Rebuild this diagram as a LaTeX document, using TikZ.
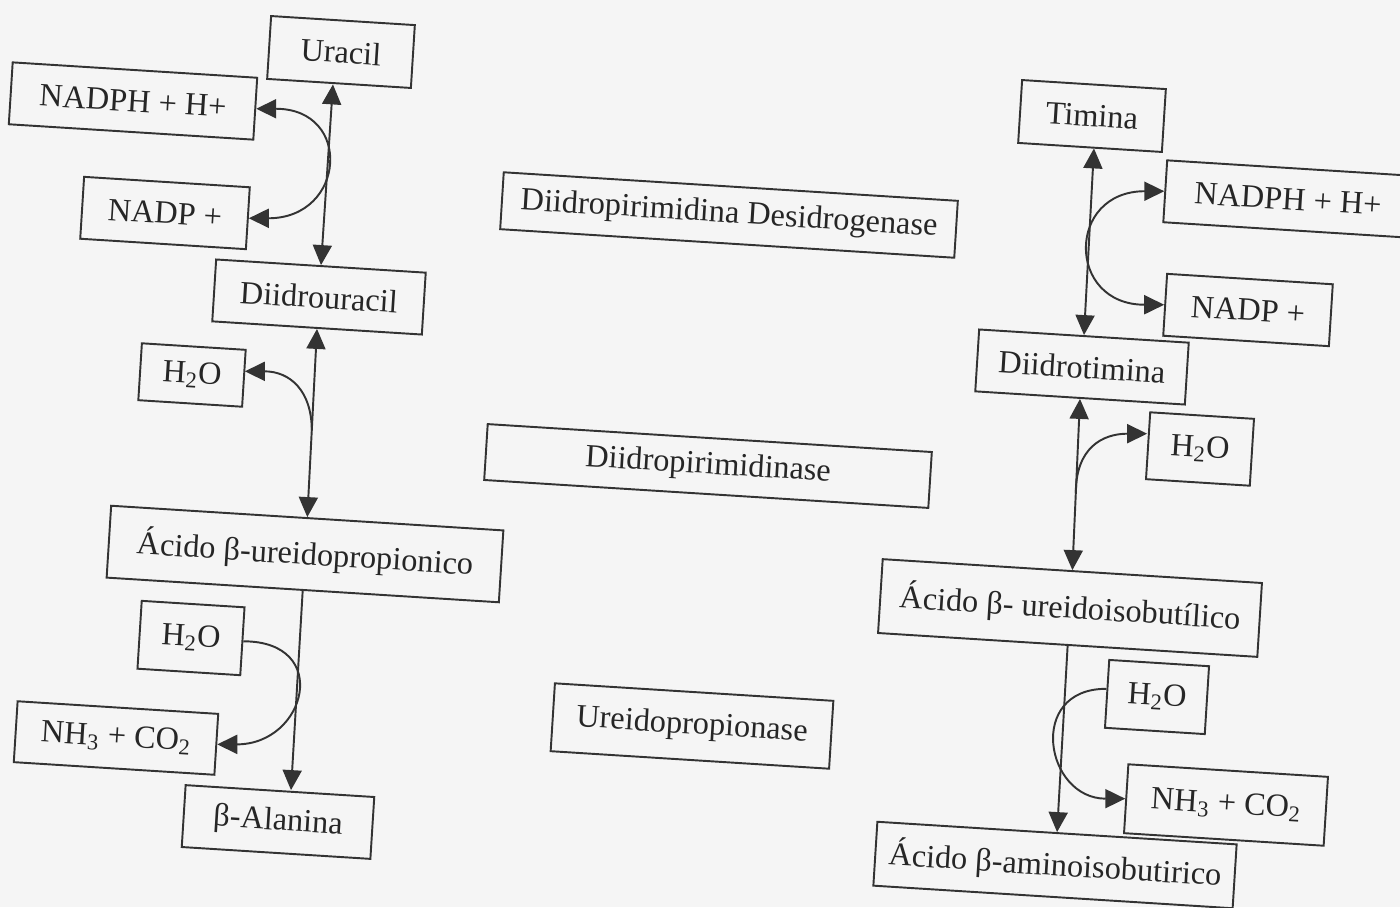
\documentclass[tikz,border=0pt]{standalone}
\usepackage{fontspec}
\setmainfont{Liberation Serif}
\usetikzlibrary{arrows.meta, calc}

\begin{document}
\begin{tikzpicture}[
    x=0.02cm, y=-0.02cm,
    >={Triangle[length=0.4cm, width=0.38cm]},
    font=\fontsize{18.4}{21}\selectfont,
    box/.style={
        draw=black!80,
        rectangle,
        rotate=-3.6,
        inner sep=0pt,
        line width=1.1pt,
        text=black!85
    },
    boxsize/.style 2 args={
        minimum width=#1*0.02cm,
        minimum height=#2*0.02cm
    },
    arrow/.style={->, line width=1.1pt, draw=black!80},
    both/.style={<->, line width=1.1pt, draw=black!80}
]

\fill[black!4] (0,0) rectangle (1400,907);
\useasboundingbox (0,0) rectangle (1400,907);

% uracil
\node[box, boxsize={144}{63}] (uracil) at (341,52) {Uracil};
\node[box, boxsize={245}{62}] (nadphL) at (133,101) {NADPH + H+};
\node[box, boxsize={166}{62}] (nadpL) at (165,213) {NADP +};
\node[box, boxsize={210}{62}] (diU) at (319,297) {Diidrouracil};
\node[box, boxsize={104}{57}] (waterA) at (192,375) {H\textsubscript{2}O};
\node[box, boxsize={393}{72}] (ureidoP) at (305,554) {Ácido β-ureidopropionico};
\node[box, boxsize={103}{68}] (waterB) at (191,638) {H\textsubscript{2}O};
\node[box, boxsize={201}{61}] (nhL) at (116,738) {NH\textsubscript{3} + CO\textsubscript{2}};
\node[box, boxsize={189}{62}] (betaAla) at (278,822) {β-Alanina};

% enzymes
\node[box, boxsize={455}{57}] (dpd) at (729,215) {Diidropirimidina Desidrogenase};
\node[box, boxsize={445}{56}] (dhp) at (708,466) {Diidropirimidinase};
\node[box, boxsize={279}{68}] (upase) at (692,726) {Ureidopropionase};

% timina
\node[box, boxsize={144}{63}] (timina) at (1092,116) {Timina};
\node[box, boxsize={246}{62}] (nadphR) at (1288,199) {NADPH + H+};
\node[box, boxsize={166}{62}] (nadpR) at (1248,310) {NADP +};
\node[box, boxsize={210}{62}] (diT) at (1082,367) {Diidrotimina};
\node[box, boxsize={104}{67}] (waterC) at (1200,449) {H\textsubscript{2}O};
\node[box, boxsize={380}{74}] (ureidoI) at (1070,608) {Ácido β- ureidoisobutílico};
\node[box, boxsize={100}{68}] (waterD) at (1157,697) {H\textsubscript{2}O};
\node[box, boxsize={200}{69}] (nhR) at (1226,805) {NH\textsubscript{3} + CO\textsubscript{2}};
\node[box, boxsize={360}{64}] (aminoI) at (1055,865) {Ácido β-aminoisobutirico};

% left pathway
\draw[both] ($(uracil.south)+(-6,0)$) -- (diU.north);
\draw[both] (nadphL.east) .. controls +(97,0) and +(97,0) .. (nadpL.east);
\draw[both] (diU.south) -- (ureidoP.north);
\coordinate (jA) at ($(diU.south)!0.54!(ureidoP.north)$);
\draw[arrow] (jA) .. controls +(0,-40) and +(45,0) .. ($(waterA.east)+(0,-7)$);
\draw[arrow] (ureidoP.south) -- ($(betaAla.north)+(11,0)$);
\draw[arrow] (waterB.east) .. controls +(89,0) and +(89,0) .. (nhL.east);

% right pathway
\draw[both] ($(timina.south)+(4,0)$) -- (diT.north);
\draw[both] (nadphR.west) .. controls +(-98,0) and +(-98,0) .. (nadpR.west);
\draw[both] (diT.south) -- (ureidoI.north);
\coordinate (jC) at ($(diT.south)!0.55!(ureidoI.north)$);
\draw[arrow] (jC) .. controls +(0,-45) and +(-45,0) .. ($(waterC.west)+(0,-12)$);
\draw[arrow] (ureidoI.south) -- (aminoI.north);
\draw[arrow] ($(waterD.west)+(0,-5)$) .. controls +(-80,0) and +(-80,0) .. (nhR.west);

\end{tikzpicture}
\end{document}
